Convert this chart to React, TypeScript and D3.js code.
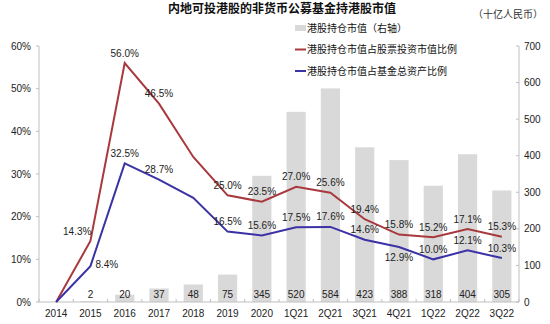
import React from "react";
import * as d3 from "d3";

const categories = ["2014","2015","2016","2017","2018","2019","2020","1Q21","2Q21","3Q21","4Q21","1Q22","2Q22","3Q22"];
const holdings = [0, 2, 20, 37, 48, 75, 345, 520, 584, 423, 388, 318, 404, 305];
const stockRatio = [0, 14.3, 56.0, 46.5, 34.0, 25.0, 23.5, 27.0, 25.6, 19.4, 15.8, 15.2, 17.1, 15.3];
const assetRatio = [0, 8.4, 32.5, 28.7, 24.4, 16.5, 15.6, 17.5, 17.6, 14.6, 12.9, 10.0, 12.1, 10.3];
const stockLabelShown = [false, true, true, true, false, true, true, true, true, true, true, true, true, true];
const assetLabelShown = [false, true, true, true, false, true, true, true, true, true, true, true, true, true];
const holdingLabelShown = [false, true, true, true, true, true, true, true, true, true, true, true, true, true];
const leftTicks = [0, 10, 20, 30, 40, 50, 60];
const rightTicks = [0, 100, 200, 300, 400, 500, 600, 700];
const title = "内地可投港股的非货币公募基金持港股市值";
const unit = "（十亿人民币）";
const legendNames = ["港股持仓市值（右轴）", "港股持仓市值占股票投资市值比例", "港股持仓市值占基金总资产比例"];

// label placement (layout only)
const stockPlace = ["above","left","above","above","above","above","above","above","above","above","above","above","above","above"];
const assetPlace = ["above","right","above","above","above","above","above","above","above","above","below","above","above","above"];

const FONT = "'Liberation Sans', Arial, 'Noto Sans CJK SC', sans-serif";
const CJK = "'Noto Sans CJK SC', 'Liberation Sans', sans-serif";
const RED = "#A8393D";
const BLUE = "#3B32A6";
const BAR = "#D9D9D9";
const AXIS = "#BFBFBF";

export default function App() {
  const W = 550, H = 324;
  const left = 39, right = 519, top = 46, bottom = 302;
  const x = d3.scaleBand<string>().domain(categories).range([left, right]).paddingInner(0.44).paddingOuter(0.22);
  const step = x.step();
  const cx = (c: string) => (x(c) as number) + x.bandwidth() / 2;
  const yL = d3.scaleLinear().domain([0, 60]).range([bottom, top]);
  const yR = d3.scaleLinear().domain([0, 700]).range([bottom, top]);
  const line = d3.line<number>().x((_, i) => cx(categories[i])).y((d) => yL(d));

  const label = (v: number, i: number, place: string, key: string) => {
    const px = cx(categories[i]);
    const py = yL(v);
    let tx = px, ty = py - 10, anchor: "middle" | "start" | "end" = "middle";
    if (place === "left") { tx = px + 1; ty = py - 9; anchor = "end"; }
    if (place === "right") { tx = px + 5; ty = py - 2; anchor = "start"; }
    if (place === "below") { ty = py + 11; }
    return (
      <text key={key} x={tx} y={ty} dy="0.35em" textAnchor={anchor} fontSize={10} fontFamily={FONT} fill="#222">
        {v.toFixed(1)}%
      </text>
    );
  };

  return (
    <svg width={W} height={H} style={{ position: "absolute", left: 0, top: 0, background: "#fff" }}>
      <text x={282} y={9} dy="0.35em" textAnchor="middle" fontSize={12} fontWeight="bold" fontFamily={CJK} fill="#111">{title}</text>
      <text x={543} y={14} dy="0.35em" textAnchor="end" fontSize={10} fontFamily={CJK} fill="#333">{unit}</text>

      {/* bars */}
      {categories.map((c, i) => (
        <rect key={"b" + c} x={x(c)} y={yR(holdings[i])} width={x.bandwidth()} height={bottom - yR(holdings[i])} fill={BAR} />
      ))}
      {categories.map((c, i) => holdingLabelShown[i] ? (
        <text key={"bl" + c} x={cx(c)} y={294} dy="0.35em" textAnchor="middle" fontSize={10} fontFamily={FONT} fill="#222">{holdings[i]}</text>
      ) : null)}

      {/* axes */}
      <line x1={left} x2={left} y1={top} y2={bottom} stroke={AXIS} />
      <line x1={right} x2={right} y1={top} y2={bottom} stroke={AXIS} />
      <line x1={left} x2={right} y1={bottom} y2={bottom} stroke={AXIS} />
      {leftTicks.map((t) => (
        <g key={"lt" + t}>
          <line x1={left - 3} x2={left} y1={yL(t)} y2={yL(t)} stroke={AXIS} />
          <text x={31} y={yL(t)} dy="0.35em" textAnchor="end" fontSize={10} fontFamily={FONT} fill="#222">{t}%</text>
        </g>
      ))}
      {rightTicks.map((t) => (
        <g key={"rt" + t}>
          <line x1={right - 3} x2={right} y1={yR(t)} y2={yR(t)} stroke={AXIS} />
          <text x={524} y={yR(t)} dy="0.35em" textAnchor="start" fontSize={10} fontFamily={FONT} fill="#222">{t}</text>
        </g>
      ))}
      {d3.range(categories.length + 1).map((k) => (
        <line key={"xt" + k} x1={left + k * step} x2={left + k * step} y1={bottom - 3} y2={bottom} stroke={AXIS} />
      ))}
      {categories.map((c) => (
        <text key={"xl" + c} x={cx(c)} y={313} dy="0.35em" textAnchor="middle" fontSize={10} fontFamily={FONT} fill="#222">{c}</text>
      ))}

      {/* lines */}
      <path d={line(stockRatio) || ""} fill="none" stroke={RED} strokeWidth={2} />
      <path d={line(assetRatio) || ""} fill="none" stroke={BLUE} strokeWidth={2} />
      {stockRatio.map((v, i) => stockLabelShown[i] ? label(v, i, stockPlace[i], "sl" + i) : null)}
      {assetRatio.map((v, i) => assetLabelShown[i] ? label(v, i, assetPlace[i], "al" + i) : null)}

      {/* legend */}
      <rect x={295} y={25} width={11} height={6} fill={BAR} />
      <text x={307} y={28} dy="0.35em" fontSize={10} fontFamily={CJK} fill="#111">{legendNames[0]}</text>
      <line x1={295} x2={306} y1={49.5} y2={49.5} stroke={RED} strokeWidth={2} />
      <text x={307} y={49.5} dy="0.35em" fontSize={10} fontFamily={CJK} fill="#111">{legendNames[1]}</text>
      <line x1={295} x2={306} y1={71} y2={71} stroke={BLUE} strokeWidth={2} />
      <text x={307} y={71} dy="0.35em" fontSize={10} fontFamily={CJK} fill="#111">{legendNames[2]}</text>
    </svg>
  );
}
